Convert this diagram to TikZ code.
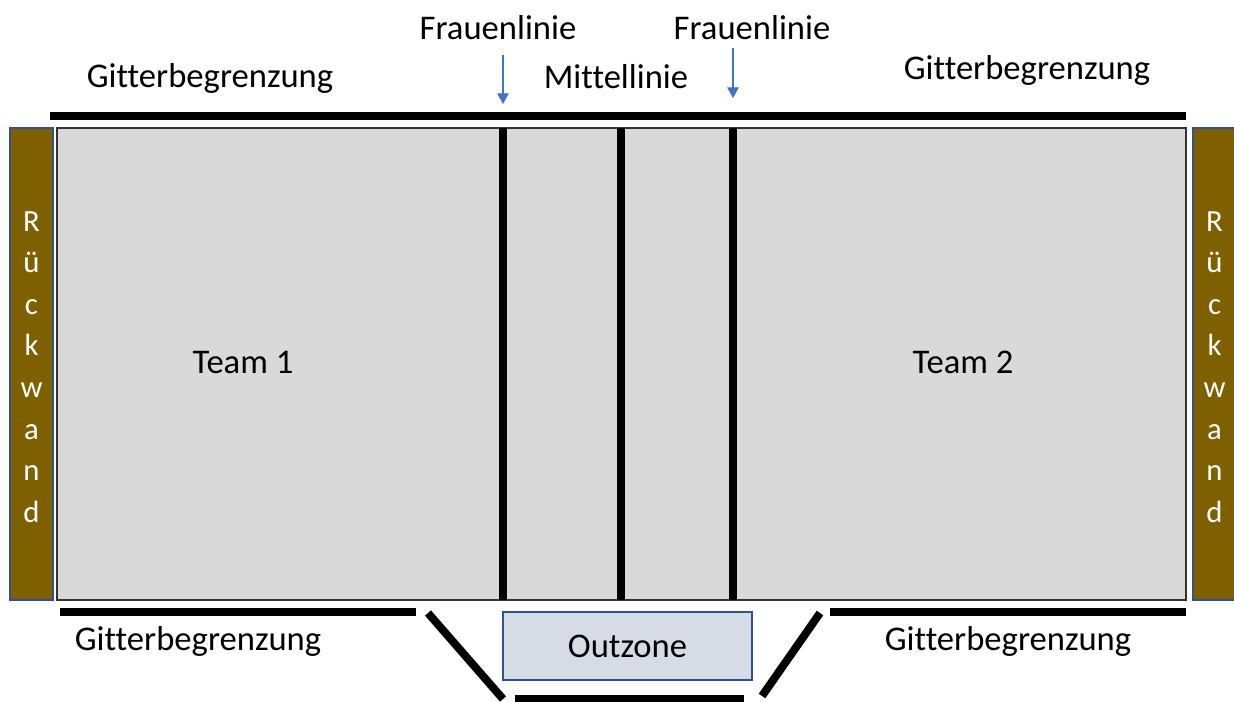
\documentclass[tikz,border=0pt]{standalone}
\usepackage{fontspec}
\setmainfont{Carlito}[Ligatures=NoCommon]
\usetikzlibrary{arrows.meta}
\definecolor{feld}{HTML}{D9D9D9}
\definecolor{wand}{HTML}{7F6000}
\definecolor{rand}{HTML}{2F528F}
\definecolor{zone}{HTML}{D6DCE5}
\definecolor{pfeil}{HTML}{4472C4}
\tikzset{
	gitter/.style={line width=8pt*0.5669, line cap=butt},
	linie/.style={line width=8pt*0.5669},
	beschr/.style={font=\fontsize{19.7}{23}\selectfont, inner sep=0pt},
	wandbox/.style={draw=rand, fill=wand, line width=0.8pt, minimum width=43*0.02cm, minimum height=472*0.02cm, inner sep=0pt},
	wandtext/.style={text=white, align=center, inner sep=0pt, font=\fontsize{17.5}{23.7}\selectfont},
}
\begin{document}
\begin{tikzpicture}[x=0.02cm, y=-0.02cm]
	\useasboundingbox (0,0) rectangle (1234,701);
	% Spielfeld
	\node[draw=black!80, fill=feld, line width=0.8pt, minimum width=1129*0.02cm, minimum height=472*0.02cm, inner sep=0pt] (feld) at (621.5,364) {};
	\node[wandbox] (wandL) at (31.5,364) {};
	\node[wandbox] (wandR) at (1214.5,364) {};
	\node[wandtext] (rueckL) at (31.5,367) {R\\ü\\c\\k\\w\\a\\n\\d};
	\node[wandtext] (rueckR) at (1214.5,367) {R\\ü\\c\\k\\w\\a\\n\\d};
	% Linien
	\draw[linie] (503,128) -- (503,600);
	\draw[linie] (621,128) -- (621,600);
	\draw[linie] (733,128) -- (733,600);
	% Gitter
	\draw[gitter] (50,116) -- (1186,116);
	\draw[gitter] (60,612) -- (416,612);
	\draw[gitter] (830,612) -- (1186,612);
	\draw[gitter] (428,613) -- (503,699);
	\draw[gitter] (820,613) -- (762,696);
	\draw[gitter] (515,699) -- (744,699);
	% Outzone
	\node[draw=rand, fill=zone, line width=0.8pt, minimum width=249*0.02cm, minimum height=68*0.02cm, inner sep=0pt, beschr] (out) at (627.5,646) {Outzone};
	% Texte
	\node[beschr] (frauL) at (498,28) {Frauenlinie};
	\node[beschr] (frauR) at (752,28) {Frauenlinie};
	\node[beschr] (mitte) at (616,77) {Mittellinie};
	\node[beschr] (gitOL) at (210,78) {Gitterbegrenzung};
	\node[beschr] (gitOR) at (1027,70) {Gitterbegrenzung};
	\node[beschr] (gitUL) at (198,641) {Gitterbegrenzung};
	\node[beschr] (gitUR) at (1008,641) {Gitterbegrenzung};
	\node[beschr] (team1) at (243,362) {Team 1};
	\node[beschr] (team2) at (963,362) {Team 2};
	% Pfeile
	\coordinate (spitzeL) at (503,104);
	\coordinate (spitzeR) at (733,98);
	\draw[pfeil, line width=0.6pt, -{Triangle[length=6pt, width=6.5pt]}] (503,55) -- (spitzeL);
	\draw[pfeil, line width=0.6pt, -{Triangle[length=6pt, width=6.5pt]}] (733,48) -- (spitzeR);
\end{tikzpicture}
\end{document}
